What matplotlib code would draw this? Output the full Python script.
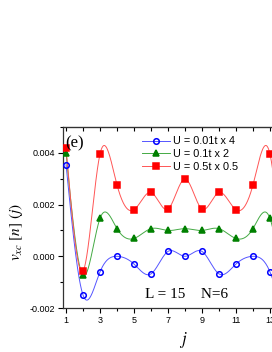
import numpy as np
import matplotlib
matplotlib.use("Agg")
import matplotlib.pyplot as plt
from matplotlib.ticker import MultipleLocator

plt.rcParams['font.family'] = ['Liberation Sans', 'DejaVu Sans']
plt.rcParams['mathtext.fontset'] = 'stix'

# site index j
sites = [1, 2, 3, 4, 5, 6, 7, 8, 9, 10, 11, 12, 13, 14, 15]

# v_xc values (already scaled as in the legend)
u001 = [0.00354, -0.00150, -0.00060, 0.00000, -0.00030, -0.00068, 0.00019, 0.00000,
        0.00019, -0.00068, -0.00030, 0.00000, -0.00060, -0.00150, 0.00354]
u01 = [0.00400, -0.00074, 0.00147, 0.00107, 0.00069, 0.00107, 0.00100, 0.00107,
       0.00100, 0.00107, 0.00069, 0.00107, 0.00147, -0.00074, 0.00400]
u05 = [0.00420, -0.00057, 0.00396, 0.00276, 0.00180, 0.00247, 0.00183, 0.00299,
       0.00183, 0.00247, 0.00180, 0.00276, 0.00396, -0.00057, 0.00420]

labels = ["U = 0.01t x 4", "U = 0.1t x 2", "U = 0.5t x 0.5"]


def natural_spline(x, y, n=600):
    x = np.asarray(x, float)
    y = np.asarray(y, float)
    m = len(x)
    h = np.diff(x)
    A = np.zeros((m, m))
    b = np.zeros(m)
    A[0, 0] = A[-1, -1] = 1
    for i in range(1, m - 1):
        A[i, i - 1] = h[i - 1]
        A[i, i] = 2 * (h[i - 1] + h[i])
        A[i, i + 1] = h[i]
        b[i] = 6 * ((y[i + 1] - y[i]) / h[i] - (y[i] - y[i - 1]) / h[i - 1])
    M = np.linalg.solve(A, b)
    xs = np.linspace(x[0], x[-1], n)
    k = np.clip(np.searchsorted(x, xs) - 1, 0, m - 2)
    t1 = x[k + 1] - xs
    t2 = xs - x[k]
    hk = h[k]
    ys = (M[k] * t1**3 / (6 * hk) + M[k + 1] * t2**3 / (6 * hk)
          + (y[k] / hk - M[k] * hk / 6) * t1 + (y[k + 1] / hk - M[k + 1] * hk / 6) * t2)
    return xs, ys


fig = plt.figure(figsize=(2.72, 3.52), dpi=100)
ax = fig.add_axes([0.2316, 0.125, 0.897, 0.514])

styles = [
    dict(color="#0000ff", line="#5555ff", marker="o", ms=4.0, mfc="none"),
    dict(color="#008000", line="#44aa44", marker="^", ms=4.8, mfc="#008000"),
    dict(color="#ff0000", line="#ff5555", marker="s", ms=4.2, mfc="#ff0000"),
]

for vals, lab, st in zip([u001, u01, u05], labels, styles):
    xs, ys = natural_spline(sites, vals)
    ax.plot(xs, ys, color=st["line"], lw=0.7, zorder=2)
    ax.plot(sites, vals, ls="none", marker=st["marker"], ms=st["ms"],
            mfc=st["mfc"], mec=st["color"], mew=1.1, zorder=3)
    ax.plot([], [], color=st["line"], lw=0.7, marker=st["marker"], ms=st["ms"],
            mfc=st["mfc"], mec=st["color"], mew=1.1, label=lab)

ax.set_xlim(0.82, 15.18)
ax.set_ylim(-0.002, 0.005)
ax.xaxis.set_minor_locator(MultipleLocator(1))
ax.set_xticks([1, 3, 5, 7, 9, 11, 13, 15])
ax.yaxis.set_minor_locator(MultipleLocator(0.001))
ax.set_yticks([-0.002, 0.000, 0.002, 0.004])
ax.set_yticklabels(["-0.002", "0.000", "0.002", "0.004"])

ax.tick_params(which="both", direction="out", labelsize=6.5, width=0.8,
               top=False, right=False, pad=2)
ax.tick_params(which="major", length=3.5)
ax.tick_params(which="minor", length=2)
for s in ax.spines.values():
    s.set_linewidth(0.9)
    s.set_color("#333333")

# inward ticks on the top spine
sec = ax.secondary_xaxis("top")
sec.set_xticks(range(1, 16))
sec.tick_params(direction="in", length=3, width=0.8, labeltop=False)

fig.legend(loc="upper left", bbox_to_anchor=(0.505, 0.625), frameon=False,
           fontsize=7.8, handlelength=2.6, handletextpad=0.3,
           labelspacing=0.25, borderaxespad=0)

fig.text(0.24, 0.594, "(e)", family="Liberation Serif", fontsize=12,
         ha="left", va="center")
fig.text(0.533, 0.162, "L = 15    N=6", family="Liberation Serif",
         fontsize=11, ha="left", va="center")
fig.text(0.673, 0.034, "$j$", fontsize=12, ha="center", va="center")
fig.text(0.06, 0.34, r"$v_{xc}\ [n]\ (j)$", fontsize=11, rotation=90,
         ha="center", va="center")

fig.savefig("out.png", dpi=100)
